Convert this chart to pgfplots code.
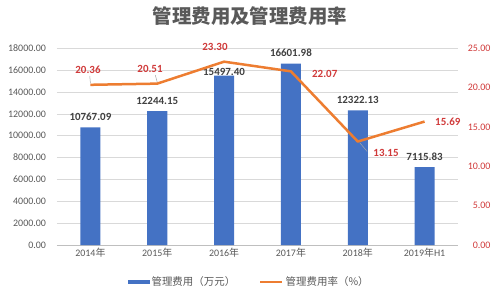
\documentclass[border=0pt]{standalone}
\usepackage{pgfplots}
\pgfplotsset{compat=1.18}
\usepackage{fontspec}
\setmainfont{Carlito}
\newfontfamily\cjk{Noto Sans CJK SC}
\definecolor{barblue}{HTML}{4472C4}
\definecolor{lineorange}{HTML}{ED7D31}
\definecolor{labelred}{HTML}{D03A3A}
\definecolor{textgray}{HTML}{595959}
\definecolor{barlabel}{HTML}{404040}
\definecolor{gridgray}{HTML}{D9D9D9}
\definecolor{axisgray}{HTML}{BFBFBF}
\begin{document}
\begin{tikzpicture}
\useasboundingbox (-57bp,-55bp) rectangle (443bp,245bp);
\begin{axis}[
  at={(0,0)}, anchor=south west,
  scale only axis, width=401bp, height=196.7bp,
  xmin=-0.5, xmax=5.5, ymin=0, ymax=18000,
  scaled y ticks=false,
  xtick={0,...,5},
  xticklabels={2014{\cjk 年},2015{\cjk 年},2016{\cjk 年},2017{\cjk 年},2018{\cjk 年},2019{\cjk 年}H1},
  xticklabel style={font=\fontsize{10}{12}\selectfont, text=textgray},
  ytick={0,2000,...,18000},
  yticklabel={\pgfmathprintnumber[fixed,fixed zerofill,precision=2,1000 sep={},assume math mode=true]{\tick}},
  yticklabel style={font=\fontsize{10}{12}\selectfont, text=textgray, xshift=-7.5bp},
  ymajorgrids, major grid style={draw=gridgray, line width=0.7bp},
  axis x line*=bottom, axis y line*=left,
  x axis line style={draw=axisgray, line width=0.8bp, -},
  y axis line style={draw=none},
  major tick length=0pt,
  title={\cjk\bfseries 管理费用及管理费用率},
  title style={at={(0.481,1.135)}, anchor=center, font=\fontsize{19.5}{22}\selectfont, text=textgray},
  legend style={at={(0.479,-0.188)}, anchor=center, draw=none, fill=none,
    font=\cjk\fontsize{10.5}{12}\selectfont, text=textgray,
    /tikz/every even column/.append style={column sep=22bp}},
  legend columns=2, legend cell align=left,
  clip=false,
]
\addplot[ybar, bar width=20bp, fill=barblue, draw=none,
  point meta=explicit symbolic, nodes near coords,
  nodes near coords style={font=\bfseries\fontsize{11}{13}\selectfont, text=barlabel, yshift=3bp},
  legend image code/.code={\fill[barblue] (0bp,-2bp) rectangle (22bp,2bp);}]
  coordinates {(0,10767.09)[10767.09] (1,12244.15)[12244.15] (2,15497.40)[]
               (3,16601.98)[16601.98] (4,12322.13)[12322.13] (5,7115.83)[7115.83]};
\addlegendentry{管理费用（万元）}
\addlegendimage{legend image code/.code={\draw[lineorange, line width=2.5bp] (0bp,0bp) -- (22bp,0bp);}}
\addlegendentry{管理费用率（\%）}
\node[font=\bfseries\fontsize{11}{13}\selectfont, text=barlabel, inner sep=0pt, yshift=4bp] at (axis cs:2,15497.40) {15497.40};
\end{axis}
\begin{axis}[
  at={(0,0)}, anchor=south west,
  scale only axis, width=401bp, height=196.7bp,
  xmin=-0.5, xmax=5.5, ymin=0, ymax=25,
  axis x line=none, axis y line*=right,
  y axis line style={draw=none},
  ytick={0,5,...,25},
  yticklabel={\pgfmathprintnumber[fixed,fixed zerofill,precision=2,assume math mode=true]{\tick}},
  yticklabel style={font=\fontsize{10}{12}\selectfont, text=labelred, anchor=east, xshift=36bp},
  major tick length=0pt,
  clip=false,
]
\addplot[lineorange, line width=2.5bp, no markers, line join=round]
  coordinates {(0,20.36) (1,20.51) (2,23.30) (3,22.07) (4,13.15) (5,15.69)};
\draw[gray!70, line width=0.5bp] (axis cs:-0.01,21.5) -- (axis cs:0,20.55);
\draw[gray!70, line width=0.5bp] (axis cs:0.97,21.6) -- (axis cs:1,20.7);
\draw[gray!70, line width=0.5bp] (axis cs:4.03,13.0) -- (axis cs:4.14,11.9);
\tikzset{rl/.style={font=\bfseries\fontsize{11}{13}\selectfont, text=labelred, inner sep=0pt}}
\node[rl] at (axis cs:-0.036,22.24) {20.36};
\node[rl] at (axis cs:0.892,22.37) {20.51};
\node[rl] at (axis cs:1.864,25.17) {23.30};
\node[rl, anchor=west] at (axis cs:3.315,21.77) {22.07};
\node[rl] at (axis cs:4.423,11.69) {13.15};
\node[rl, anchor=west] at (axis cs:5.156,15.67) {15.69};
\end{axis}
\end{tikzpicture}
\end{document}
